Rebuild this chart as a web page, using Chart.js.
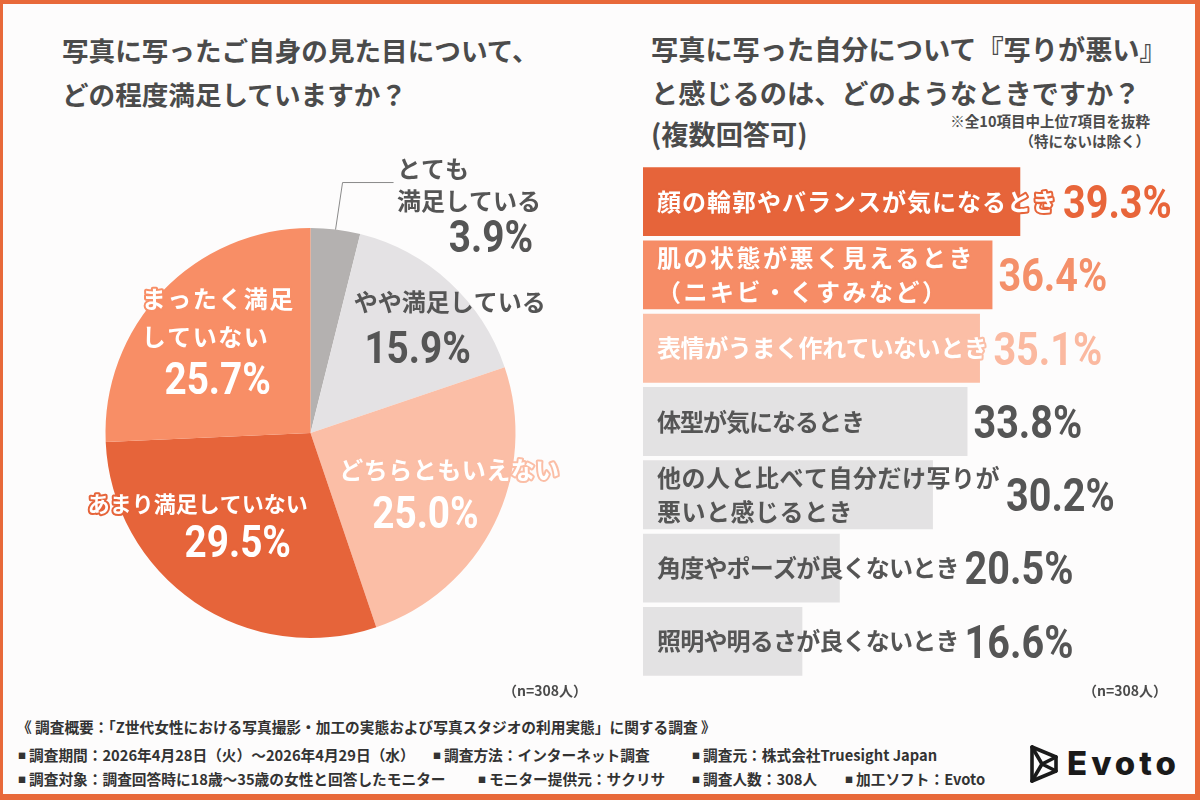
<!DOCTYPE html>
<html lang="ja">
<head>
  <meta charset="UTF-8" />
  <title>写真の写りに関する調査</title>
  <script src="https://cdn.jsdelivr.net/npm/chart.js@4.4.0/dist/chart.umd.min.js"></script>
  <style>
    html, body { margin: 0; padding: 0; }
    body {
      width: 1200px;
      height: 800px;
      overflow: hidden;
      background: #fdfcfc;
      font-family: 'Noto Sans CJK JP', sans-serif;
      color: #4b4b4b;
    }
    .page { position: relative; width: 1200px; height: 800px; }
    .frame {
      position: absolute; left: 0; top: 0; width: 1200px; height: 800px;
      box-sizing: border-box;
      border-style: solid; border-color: #e8693a;
      border-width: 4px 5px 6px 3px;
      pointer-events: none;
    }
    .title { position: absolute; font-size: 26.6px; font-weight: 700; line-height: 44px; white-space: nowrap; }
    .title.r { font-size: 27.2px; }
    .note { position: absolute; font-size: 14.5px; font-weight: 700; line-height: 20px; text-align: right; color: #4b4b4b; }
    .n { position: absolute; font-size: 14px; font-weight: 700; color: #4b4b4b; line-height: 20px; }
    .foot { position: absolute; font-size: 14.7px; font-weight: 700; color: #333; line-height: 20px; white-space: nowrap; }
    .foot b { font-size: 8px; vertical-align: 2px; margin-right: 3px; }
    canvas { position: absolute; }
    #pieChart { left: 0; top: 130px; }
    #barChart { left: 620px; top: 150px; }
    .logo { position: absolute; left: 1028px; top: 744px; }
    .logo-text { position: absolute; left: 1067px; top: 741px; font-family: Inter, sans-serif; font-weight: 800; font-size: 33px; letter-spacing: 4px; color: #1a1a1a; line-height: 44px; }
  </style>
</head>
<body>
  <div class="page">
    <div class="title" style="left:62px; top:28px;">写真に写ったご自身の見た目について、<br>どの程度満足していますか？</div>
    <div class="title r" style="left:651px; top:26px;">写真に写った自分について『写りが悪い』<br>と感じるのは、どのようなときですか？</div>
    <div class="title r" style="left:651px; top:111px;">(複数回答可)</div>
    <div class="note" style="right:50px; top:111px;">※全10項目中上位7項目を抜粋<br>（特にないは除く）</div>

    <canvas id="pieChart" width="620" height="570"></canvas>
    <canvas id="barChart" width="575" height="540"></canvas>

    <div class="n" style="left:503px; top:680px;">（n=308人）</div>
    <div class="n" style="left:1083px; top:680px;">（n=308人）</div>

    <div class="foot" style="left:17px; top:717px;">《 調査概要：「Z世代女性における写真撮影・加工の実態および写真スタジオの利用実態」に関する調査 》</div>
    <div class="foot" style="left:18px; top:745px;"><b>■</b>調査期間：2026年4月28日（火）～2026年4月29日（水）</div>
    <div class="foot" style="left:433px; top:745px;"><b>■</b>調査方法：インターネット調査</div>
    <div class="foot" style="left:692px; top:745px;"><b>■</b>調査元：株式会社Truesight Japan</div>
    <div class="foot" style="left:18px; top:769px;"><b>■</b>調査対象：調査回答時に18歳～35歳の女性と回答したモニター</div>
    <div class="foot" style="left:478px; top:769px;"><b>■</b>モニター提供元：サクリサ</div>
    <div class="foot" style="left:692px; top:769px;"><b>■</b>調査人数：308人</div>
    <div class="foot" style="left:845px; top:769px;"><b>■</b>加工ソフト：Evoto</div>

    <svg class="logo" width="32" height="40" viewBox="0 0 32 40">
      <g fill="none" stroke="#1a1a1a" stroke-width="3.6" stroke-linejoin="round" stroke-linecap="round">
        <path d="M4 3 L28 13 L28 27 L4 37 Z" />
        <path d="M4 3 L14 20 L4 37 M14 20 L28 13 M14 20 L28 27" />
      </g>
    </svg>
    <div class="logo-text">Evoto</div>

    <div class="frame"></div>
  </div>

  <script>
    // pie: satisfaction with own look in photos
    const pieLabels = [
      ['とても', '満足している'],
      ['やや満足している'],
      ['どちらともいえない'],
      ['あまり満足していない'],
      ['まったく満足', 'していない']
    ];
    const pieValues = [3.9, 15.9, 25.0, 29.5, 25.7];
    const pieColors = ['#b4b1b0', '#e4e2e4', '#fbbea6', '#e6643a', '#f88e66'];

    // bars: when the photo looks bad (multiple answers)
    const barLabels = [
      ['顔の輪郭やバランスが気になるとき'],
      ['肌の状態が悪く見えるとき', '（ニキビ・くすみなど）'],
      ['表情がうまく作れていないとき'],
      ['体型が気になるとき'],
      ['他の人と比べて自分だけ写りが', '悪いと感じるとき'],
      ['角度やポーズが良くないとき'],
      ['照明や明るさが良くないとき']
    ];
    const barValues = [39.3, 36.4, 35.1, 33.8, 30.2, 20.5, 16.6];
    const barColors = ['#e6643a', '#f68c66', '#fbbea6', '#e3e2e3', '#e3e2e3', '#e3e2e3', '#e3e2e3'];
    const valueColors = ['#e8653a', '#f4906a', '#fbb9a0', '#555555', '#555555', '#555555', '#555555'];

    const JP = '"Noto Sans CJK JP", sans-serif';
    const NUM = 'Roboto, "DejaVu Sans", sans-serif';
    const SQUEEZE = 0.86; // numbers in the original are a condensed face

    function drawText(ctx, text, x, y, fill, stroke, sx) {
      ctx.save();
      ctx.translate(x, y);
      ctx.scale(sx || 1, 1);
      if (stroke) {
        ctx.lineWidth = 4;
        ctx.lineJoin = 'round';
        ctx.strokeStyle = stroke;
        ctx.strokeText(text, 0, 0);
      }
      ctx.fillStyle = fill;
      ctx.fillText(text, 0, 0);
      ctx.restore();
    }

    // draws slice captions around each arc's mid angle
    const pieTextPlugin = {
      id: 'pieText',
      afterDatasetsDraw(chart, args, opts) {
        const ctx = chart.ctx;
        const arcs = chart.getDatasetMeta(0).data;
        ctx.save();
        arcs.forEach((arc, i) => {
          const p = arc.getProps(['x', 'y', 'startAngle', 'endAngle', 'outerRadius'], true);
          const mid = (p.startAngle + p.endAngle) / 2;
          const ax = p.x + Math.cos(mid) * p.outerRadius * opts.anchor;
          const ay = p.y + Math.sin(mid) * p.outerRadius * opts.anchor;
          const s = opts.slices[i];
          const stroke = s.stroke ? pieColors[i] : null;

          ctx.font = '700 ' + (s.size || opts.labelSize) + 'px ' + JP;
          ctx.textBaseline = 'middle';
          ctx.letterSpacing = (s.spacing || 0) + 'px';
          pieLabels[i].forEach((line, j) => {
            const [dx, dy, align] = s.lines[j];
            ctx.textAlign = align;
            drawText(ctx, line, ax + dx, ay + dy, s.color, stroke);
          });
          ctx.letterSpacing = '0px';

          ctx.font = '700 ' + opts.pctSize + 'px ' + NUM;
          ctx.textBaseline = 'alphabetic';
          ctx.textAlign = s.pct[2];
          drawText(ctx, pieValues[i].toFixed(1) + '%', ax + s.pct[0], ay + s.pct[1] + opts.pctSize * 0.355, s.color, stroke, SQUEEZE);

          if (s.leader) {
            const sx = p.x + Math.cos(mid) * p.outerRadius;
            const sy = p.y + Math.sin(mid) * p.outerRadius;
            ctx.beginPath();
            ctx.moveTo(sx, sy);
            ctx.lineTo(sx + s.leader[0], sy + s.leader[1]);
            ctx.lineTo(sx + s.leader[2], sy + s.leader[1]);
            ctx.strokeStyle = '#8a8a8a';
            ctx.lineWidth = 1;
            ctx.stroke();
          }
        });
        ctx.restore();
      }
    };

    // draws category text inside bars and value after bar or text
    const barTextPlugin = {
      id: 'barText',
      afterDatasetsDraw(chart, args, opts) {
        const ctx = chart.ctx;
        const bars = chart.getDatasetMeta(0).data;
        ctx.save();
        bars.forEach((bar, i) => {
          const p = bar.getProps(['x', 'y', 'base'], true);
          const lines = barLabels[i];
          const light = i < 3;
          ctx.font = '700 ' + opts.labelSize + 'px ' + JP;
          ctx.letterSpacing = (opts.spacing[i] || 0) + 'px';
          ctx.textAlign = 'left';
          ctx.textBaseline = 'middle';
          let textEnd = 0;
          lines.forEach((line, j) => {
            const ly = p.y + (j - (lines.length - 1) / 2) * opts.lineHeight;
            const lx = p.base + opts.inset;
            drawText(ctx, line, lx, ly, light ? '#ffffff' : '#555555', light ? barColors[i] : null);
            textEnd = Math.max(textEnd, lx + ctx.measureText(line).width);
          });
          ctx.letterSpacing = '0px';
          ctx.font = '700 ' + opts.valueSize + 'px ' + NUM;
          ctx.textBaseline = 'alphabetic';
          const vx = Math.max(textEnd, p.x) + opts.gap;
          drawText(ctx, barValues[i].toFixed(1) + '%', vx, p.y + opts.valueSize * 0.355, valueColors[i], null, SQUEEZE);
        });
        ctx.restore();
      }
    };

    new Chart(document.getElementById('pieChart'), {
      type: 'pie',
      data: {
        labels: pieLabels.map(l => l.join('')),
        datasets: [{
          data: pieValues,
          backgroundColor: pieColors,
          borderWidth: 0,
          hoverOffset: 0,
          offset: 0
        }]
      },
      options: {
        responsive: false,
        animation: false,
        devicePixelRatio: 1,
        layout: { padding: { left: 105, right: 104, top: 98, bottom: 62 } },
        plugins: {
          legend: { display: false },
          tooltip: { enabled: false },
          pieText: {
            anchor: 0.62,
            labelSize: 24,
            pctSize: 45,
            slices: [
              { color: '#555555', lines: [[71, -138, 'left'], [71, -106, 'left']], pct: [207, -71, 'right'], leader: [7, -47, 58] },
              { color: '#555555', lines: [[53, -38, 'center']], pct: [21, 7, 'center'] },
              { color: '#ffffff', stroke: true, spacing: 0.5, lines: [[25, -19, 'center']], pct: [1, 23, 'center'] },
              { color: '#ffffff', stroke: true, size: 22, lines: [[-41, -34, 'center']], pct: [-1, 3, 'center'] },
              { color: '#ffffff', stroke: true, spacing: 1.5, lines: [[-77, -46, 'left'], [-77, -8, 'left']], pct: [-1, 33, 'center'] }
            ]
          }
        }
      },
      plugins: [pieTextPlugin]
    });

    new Chart(document.getElementById('barChart'), {
      type: 'bar',
      data: {
        labels: barLabels,
        datasets: [{
          data: barValues,
          backgroundColor: barColors,
          borderWidth: 0,
          categoryPercentage: 1,
          barPercentage: 0.94
        }]
      },
      options: {
        indexAxis: 'y',
        responsive: false,
        animation: false,
        devicePixelRatio: 1,
        layout: { padding: { left: 23, right: 24, top: 15, bottom: 12 } },
        scales: {
          x: { display: false, min: 0, max: 55 },
          y: { display: false }
        },
        plugins: {
          legend: { display: false },
          tooltip: { enabled: false },
          barText: {
            labelSize: 24,
            lineHeight: 34,
            inset: 14,
            gap: 6,
            valueSize: 46,
            spacing: [1, 2.5, -0.4, -1, 0.5, -0.8, -0.8]
          }
        }
      },
      plugins: [barTextPlugin]
    });
  </script>
</body>
</html>
